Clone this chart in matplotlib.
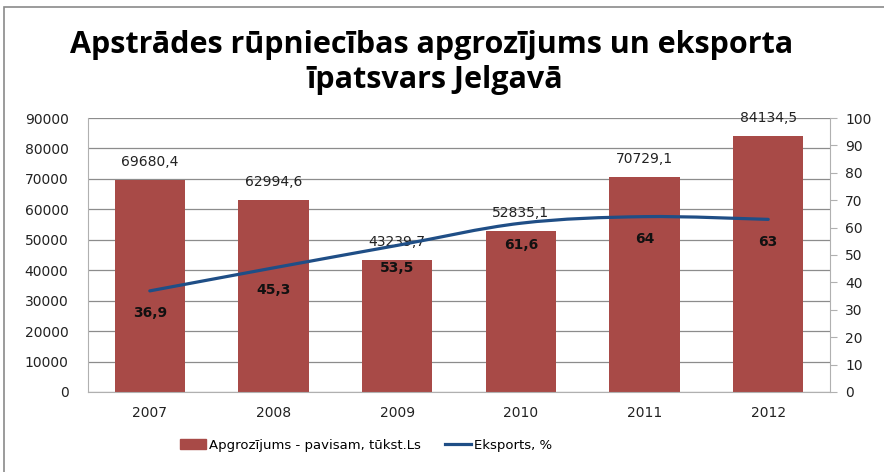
import matplotlib.pyplot as plt
from matplotlib.path import Path
from matplotlib.patches import PathPatch, Rectangle
from matplotlib.lines import Line2D

years = ['2007', '2008', '2009', '2010', '2011', '2012']
turnover = [69680.4, 62994.6, 43239.7, 52835.1, 70729.1, 84134.5]
export_share = [36.9, 45.3, 53.5, 61.6, 64, 63]
turnover_labels = ['69680,4', '62994,6', '43239,7', '52835,1', '70729,1', '84134,5']
export_labels = ['36,9', '45,3', '53,5', '61,6', '64', '63']

bar_color = '#A84A47'
line_color = '#1F4E86'
grid_color = '#8C8C8C'

plt.rcParams['font.family'] = ['DejaVu Sans']

fig = plt.figure(figsize=(8.84, 4.72), dpi=100)
ax = fig.add_axes([0.0995, 0.1695, 0.8395, 0.5805])
ax2 = ax.twinx()

x = list(range(len(years)))
ax.bar(x, turnover, width=0.57, color=bar_color, zorder=2)
ax.set_xlim(-0.5, len(years) - 0.5)
ax.set_ylim(0, 90000)
ax.set_yticks(range(0, 90001, 10000))
ax.set_xticks(x)
ax.set_xticklabels(years)
ax.yaxis.grid(True, color=grid_color, linewidth=0.9, zorder=0)
ax.set_axisbelow(True)
ax.tick_params(axis='y', length=0, labelsize=10, colors='#222222', pad=14)
ax.tick_params(axis='x', length=0, labelsize=10, colors='#222222', pad=10)
for s in ['top', 'right']:
    ax.spines[s].set_visible(False)
ax.spines['left'].set_color('#B0B0B0')
ax.spines['bottom'].set_color('#B0B0B0')

for xi, v, lab in zip(x, turnover, turnover_labels):
    ax.annotate(lab, (xi, v), xytext=(0, 8), textcoords='offset points',
                ha='center', va='bottom', fontsize=10, color='#222222')

# smoothed line (Catmull-Rom -> Bezier), like Excel's smooth line
pts = list(zip(x, export_share))
verts = [pts[0]]
codes = [Path.MOVETO]
for i in range(len(pts) - 1):
    p0 = pts[i - 1] if i > 0 else pts[i]
    p1 = pts[i]
    p2 = pts[i + 1]
    p3 = pts[i + 2] if i + 2 < len(pts) else pts[i + 1]
    c1 = (p1[0] + (p2[0] - p0[0]) / 6, p1[1] + (p2[1] - p0[1]) / 6)
    c2 = (p2[0] - (p3[0] - p1[0]) / 6, p2[1] - (p3[1] - p1[1]) / 6)
    verts += [c1, c2, p2]
    codes += [Path.CURVE4] * 3
ax2.add_patch(PathPatch(Path(verts, codes), fill=False, edgecolor=line_color,
                        linewidth=2.3, zorder=3, capstyle='round'))
ax2.set_ylim(0, 100)
ax2.set_yticks(range(0, 101, 10))
ax2.tick_params(axis='y', length=5, labelsize=10, colors='#222222', pad=6)
ax2.tick_params(axis='y', color='#B0B0B0')
for s in ['top', 'left', 'bottom']:
    ax2.spines[s].set_visible(False)
ax2.spines['right'].set_color('#B0B0B0')

for xi, v, lab in zip(x, export_share, export_labels):
    ax2.annotate(lab, (xi, v), xytext=(0, -16), textcoords='offset points',
                 ha='center', va='center', fontsize=10, fontweight='bold', color='#111111')

fig.text(0.488, 0.905, 'Apstrādes rūpniecības apgrozījums un eksporta',
         ha='center', va='center', fontsize=22, fontweight='bold',
         family=['Open Sans', 'DejaVu Sans'])
fig.text(0.492, 0.83, 'īpatsvars Jelgavā',
         ha='center', va='center', fontsize=22, fontweight='bold',
         family=['Open Sans', 'DejaVu Sans'])

handles = [Rectangle((0, 0), 1, 1, color=bar_color),
           Line2D([0], [0], color=line_color, linewidth=2.3)]
fig.legend(handles, ['Apgrozījums - pavisam, tūkst.Ls', 'Eksports, %'],
           loc='center', bbox_to_anchor=(0.414, 0.057), ncol=2, frameon=False,
           fontsize=9.5, handlelength=2.0, handletextpad=0.2, columnspacing=1.8)

# chart frame
fig.add_artist(Rectangle((0.005, -0.05), 1.2, 1.035, transform=fig.transFigure,
                         fill=False, edgecolor='#8A8A8A', linewidth=1.2))

fig.savefig('out.png', dpi=100)
